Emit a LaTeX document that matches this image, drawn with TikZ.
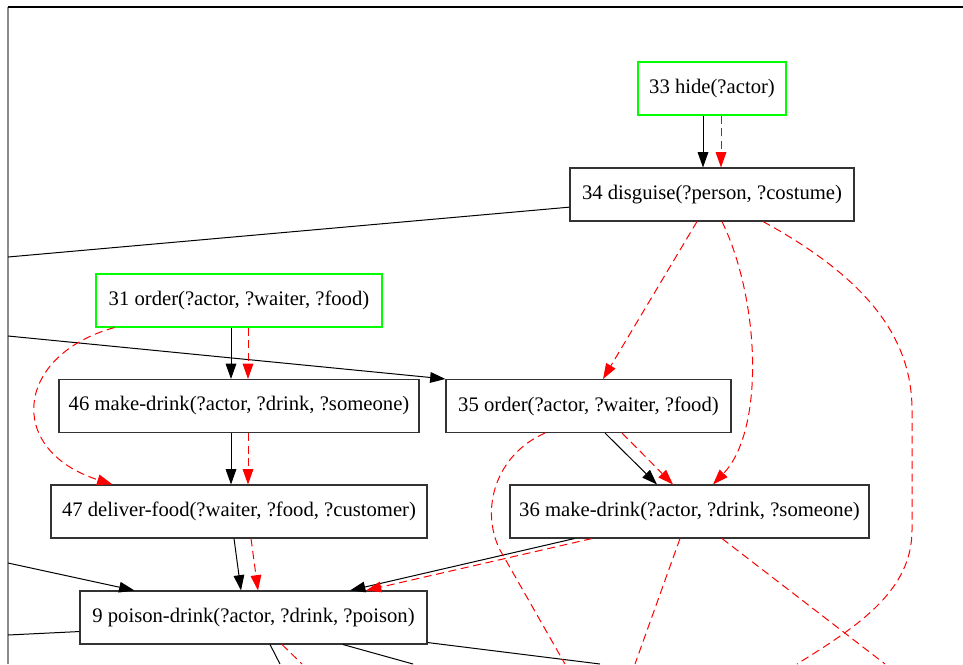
\documentclass[tikz,border=0pt]{standalone}
\usepackage{fontspec}
\setmainfont{Liberation Serif}
\usepackage{tikz}
\usetikzlibrary{arrows.meta}
\usetikzlibrary{positioning}
\usetikzlibrary{calc}
\tikzset{
  % Graphviz-like arrow tip
  >={Triangle[length=11.5pt,width=8pt]},
  % Common styles for plan graphs
  link/.style={draw=black, line width=0.75pt},
  threat/.style={draw=red, line width=0.75pt, dash pattern=on 6pt off 3.5pt}
}

\begin{document}
\begin{tikzpicture}[
    x=0.75pt, y=-0.75pt,
    action/.style={rectangle, draw=black!80, line width=0.8pt, inner sep=0pt,
               minimum height=39.75pt, font=\fontsize{15.5}{18}\selectfont},
    start/.style={action, draw=green},
    arrow/.style={link, ->},
    dashed_arrow/.style={threat, ->}
]
\useasboundingbox (0,0) rectangle (963,664);

% Frame
\draw[black!45, line width=0.8pt] (8,7) -- (8,664);
\draw[black, line width=1.2pt] (8,7) -- (963,7);

% Plan steps
\node[start, minimum width=111pt] (hide) at (712,88.5) {33 hide(?actor)};
\node[action, minimum width=213pt] (disguise) at (712,194.5) {34 disguise(?person, ?costume)};
\node[start, minimum width=214.5pt] (orderA) at (239,300.5) {31 order(?actor, ?waiter, ?food)};
\node[action, minimum width=270pt] (drinkA) at (239,406) {46 make-drink(?actor, ?drink, ?someone)};
\node[action, minimum width=213.75pt] (orderB) at (588.5,406) {35 order(?actor, ?waiter, ?food)};
\node[action, minimum width=282pt] (deliver) at (239,511.5) {47 deliver-food(?waiter, ?food, ?customer)};
\node[action, minimum width=269.25pt] (drinkB) at (689.5,511.5) {36 make-drink(?actor, ?drink, ?someone)};
\node[action, minimum width=260.25pt] (poison) at (253.5,617.5) {9 poison-drink(?actor, ?drink, ?poison)};

% Loose ends (graph continues outside the view)
\coordinate (w1) at (8,257);
\coordinate (w2) at (8,336);
\coordinate (w3) at (8,563);
\coordinate (w4) at (8,635);
\coordinate (s1) at (280,664);
\coordinate (s2) at (302,664);
\coordinate (s3) at (413,664);
\coordinate (s4) at (600,664);
\coordinate (s5) at (565,664);
\coordinate (s6) at (635,664);
\coordinate (s7) at (885,664);
\coordinate (s8) at (797,664);

% Causal links
\draw[arrow] ($(hide.south)+(-9,0)$) -- ($(disguise.north)+(-9,0)$);
\draw[arrow] ($(orderA.south)+(-8,0)$) -- ($(drinkA.north)+(-8,0)$);
\draw[arrow] ($(drinkA.south)+(-8,0)$) -- ($(deliver.north)+(-8,0)$);
\draw[arrow] ($(deliver.south)+(-5,0)$) -- ($(poison.north)+(-12.5,0)$);
\draw[arrow] ($(orderB.south)+(16.5,0)$) -- ($(drinkB.north)+(-32.5,0)$);
\draw[arrow] ($(drinkB.south)+(-115,0)$) -- ($(poison.north)+(96.5,0)$);
\draw[arrow] (w2) -- (orderB.north west);
\draw[arrow] (w3) -- ($(poison.north west)+(55,0)$);
\draw[link] (disguise) -- (w1);
\draw[link] ($(poison.south west)+(0,-13)$) -- (w4);
\draw[link] ($(poison.south)+(16.5,0)$) -- (s1);
\draw[link] ($(poison.south)+(89.5,0)$) -- (s3);
\draw[link] ($(poison.south east)+(0,-2)$) -- (s4);

% Orderings
\draw[dashed_arrow] ($(hide.south)+(9,0)$) -- ($(disguise.north)+(9,0)$);
\draw[dashed_arrow] ($(orderA.south)+(9,0)$) -- ($(drinkA.north)+(9,0)$);
\draw[dashed_arrow] ($(drinkA.south)+(9,0)$) -- ($(deliver.north)+(9,0)$);
\draw[dashed_arrow] ($(deliver.south)+(12,0)$) -- ($(poison.north)+(4.5,0)$);
\draw[dashed_arrow] ($(orderB.south)+(33.5,0)$) -- ($(drinkB.north)+(-16.5,0)$);
\draw[dashed_arrow] ($(drinkB.south)+(-97.5,0)$) -- ($(poison.north)+(112.5,0)$);
\draw[dashed_arrow] ($(disguise.south)+(-15,0)$) -- ($(orderB.north)+(14.5,0)$);
\draw[dashed_arrow] ($(orderA.south west)+(19,0)$) .. controls (15,355) and (5,450) .. ($(deliver.north west)+(62,0)$);
\draw[dashed_arrow] ($(disguise.south)+(10,0)$) .. controls (760,300) and (765,430) .. ($(drinkB.north)+(23.5,0)$);
\draw[threat] ($(disguise.south)+(51,0)$) .. controls (870,280) and (912,340) .. (912,410)
    -- (912,530) .. controls (912,590) and (860,625) .. (s8);
\draw[threat] ($(orderB.south)+(-43.5,0)$) .. controls (495,455) and (480,510) .. (500,550) -- (s5);
\draw[threat] ($(drinkB.south)+(-9.5,0)$) -- (s6);
\draw[threat] ($(drinkB.south)+(32.5,0)$) -- (s7);
\draw[threat] ($(poison.south)+(28.5,0)$) -- (s2);

\end{tikzpicture}
\end{document}
